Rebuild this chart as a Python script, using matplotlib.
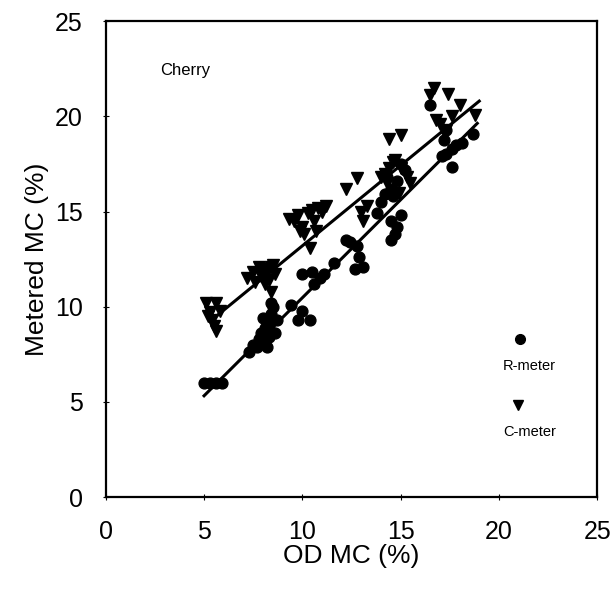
import numpy as np
import matplotlib.pyplot as plt

plt.rcParams['font.family'] = ['Liberation Sans', 'DejaVu Sans']

# R-meter (circles)
r_x = [5.0, 5.3, 5.6, 5.9,
       7.3, 7.5, 7.7, 7.8, 7.9, 8.0, 8.1, 8.2, 8.0, 8.3, 8.4, 8.5, 8.3, 8.6, 8.2, 8.7, 8.4, 8.1,
       9.4, 10.0, 9.8, 10.4,
       10.0, 10.5, 10.6, 10.9, 11.1, 11.6, 12.4, 12.2, 12.8, 12.9, 13.1, 12.7,
       13.8, 14.0, 14.2, 14.5, 14.3, 14.6, 14.5, 14.7, 14.5, 14.8, 15.0, 14.8, 15.2, 15.0,
       16.5, 17.3, 17.2, 18.7, 17.6, 17.3, 17.6, 17.1, 17.8, 18.1]
r_y = [6.0, 6.0, 6.0, 6.0,
       7.6, 8.0, 7.9, 8.3, 8.6, 8.1, 8.9, 9.2, 9.4, 8.4, 9.6, 10.0, 9.0, 8.6, 7.9, 9.3, 10.2, 8.2,
       10.1, 9.8, 9.3, 9.3,
       11.7, 11.8, 11.2, 11.5, 11.7, 12.3, 13.4, 13.5, 13.2, 12.6, 12.1, 12.0,
       14.9, 15.5, 15.9, 16.2, 16.8, 15.8, 14.5, 13.8, 13.5, 14.2, 14.8, 16.6, 17.2, 17.5,
       20.6, 19.3, 18.75, 19.1, 18.3, 18.0, 17.35, 17.9, 18.5, 18.6]

# C-meter (triangles)
c_x = [5.1, 5.6, 5.3, 5.4, 5.5, 5.6, 5.2, 5.8,
       7.2, 7.5, 7.6, 7.9, 8.0, 8.2, 8.3, 8.5, 8.6, 8.4, 7.8, 8.1, 8.4,
       9.3, 9.6, 9.8, 10.0, 10.1, 10.3, 10.5, 10.6, 10.8, 11.0, 11.2, 10.4, 9.9, 10.7,
       12.2, 12.8, 13.3, 13.1, 13.0, 14.0, 14.2, 14.4, 14.6, 14.7, 15.0, 15.3, 15.5, 14.9, 14.3, 14.4, 15.0,
       16.5, 16.7, 17.4, 18.0, 18.8, 16.8, 17.3, 17.6, 17.0]
c_y = [10.2, 10.2, 9.7, 9.3, 9.0, 8.7, 9.5, 9.8,
       11.5, 11.8, 11.3, 11.6, 12.0, 11.8, 11.4, 12.2, 11.7, 12.1, 12.1, 11.2, 10.8,
       14.6, 14.5, 14.8, 14.2, 13.8, 14.9, 15.1, 14.5, 15.2, 15.0, 15.3, 13.1, 14.0, 14.0,
       16.2, 16.75, 15.3, 14.5, 15.0, 16.8, 17.0, 17.3, 17.6, 17.7, 17.3, 16.8, 16.5, 16.0, 16.5, 18.8, 19.0,
       21.1, 21.5, 21.2, 20.6, 20.1, 19.8, 19.3, 20.0, 19.6]

# regression lines: slope, intercept, x range
r_fit = [1.03, 0.17]
r_range = [5.0, 18.9]
c_fit = [0.845, 4.75]
c_range = [5.5, 19.0]

fig = plt.figure(figsize=(6.15, 5.91), dpi=100)
ax = fig.add_axes([0.172, 0.159, 0.799, 0.805])

ax.plot(r_x, r_y, 'o', color='black', markersize=7.8, zorder=3)
ax.plot(c_x, c_y, 'v', color='black', markersize=8.3, zorder=3)

for fit, rng in [(r_fit, r_range), (c_fit, c_range)]:
    xs = np.array(rng)
    ax.plot(xs, fit[0] * xs + fit[1], color='black', linewidth=2.2, zorder=4)

ax.set_xlim(0, 25)
ax.set_ylim(0, 25)
ax.set_xticks(range(0, 26, 5))
ax.set_yticks(range(0, 26, 5))
ax.tick_params(direction='inout', length=5, width=0.8, labelsize=18)
ax.tick_params(axis='x', pad=14)
ax.tick_params(axis='y', pad=14)
for s in ax.spines.values():
    s.set_linewidth(1.6)

ax.set_xlabel('OD MC (%)', fontsize=19, labelpad=0)
ax.set_ylabel('Metered MC (%)', fontsize=19, labelpad=4)

ax.text(0.11, 0.897, 'Cherry', transform=ax.transAxes, fontsize=12, va='center')

# legend
ax.plot([0.843], [0.332], 'o', color='black', markersize=7, transform=ax.transAxes, clip_on=False)
ax.text(0.862, 0.276, 'R-meter', transform=ax.transAxes, fontsize=10.5, ha='center', va='center')
ax.plot([0.838], [0.193], 'v', color='black', markersize=7, transform=ax.transAxes, clip_on=False)
ax.text(0.862, 0.137, 'C-meter', transform=ax.transAxes, fontsize=10.5, ha='center', va='center')

plt.savefig('out.png', dpi=100)
